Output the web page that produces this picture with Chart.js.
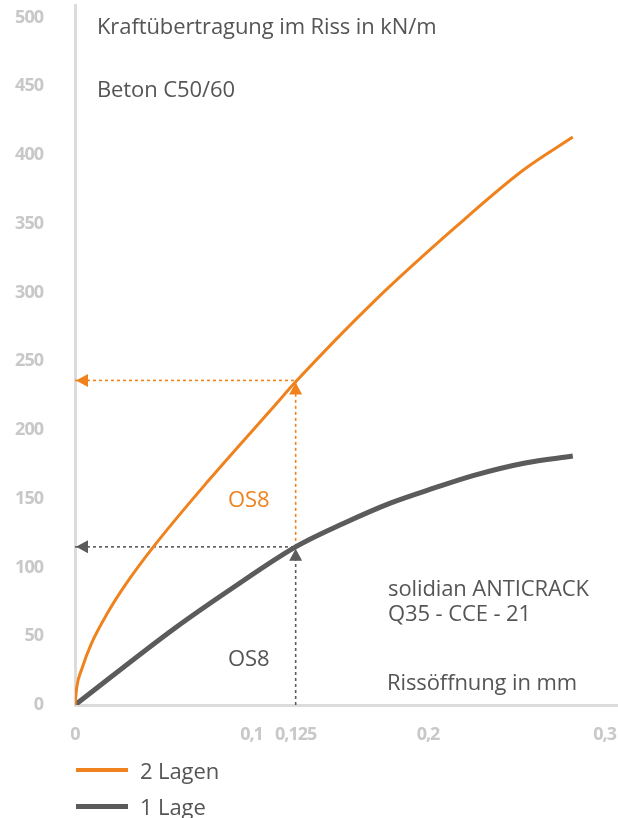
<!DOCTYPE html>
<html>
<head>
<meta charset="utf-8">
<script src="https://cdn.jsdelivr.net/npm/chart.js@4.4.1/dist/chart.umd.min.js"></script>
<style>
    body { margin: 0; background: #fff; font-family: "Open Sans", sans-serif; }
    #wrap { position: relative; width: 618px; height: 818px; }
    #wrap canvas { position: absolute; left: 0; top: 0; }
    .note { position: absolute; color: #555; font-size: 22px; line-height: 1; white-space: nowrap;
            letter-spacing: -0.1px; transform: translateY(-50%); }
    .orange { color: #F0821E; }
    .leg { position: absolute; left: 76px; height: 24px; display: flex; align-items: center;
           transform: translateY(-50%); }
    .leg span.swatch { display: inline-block; width: 52px; margin-right: 12px; }
    .leg span.txt { color: #555; font-size: 22px; letter-spacing: -0.1px; }
</style>
</head>
<body>
<div id="wrap">
    <canvas id="chart"></canvas>
    <div class="note" style="left:97px; top:25px;">Kraftübertragung im Riss in kN/m</div>
    <div class="note" style="left:97px; top:88px;">Beton C50/60</div>
    <div class="note orange" style="left:228px; top:498px;">OS8</div>
    <div class="note" style="left:228px; top:657px;">OS8</div>
    <div class="note" style="left:388px; top:587px;">solidian ANTICRACK</div>
    <div class="note" style="left:388px; top:612px;">Q35 - CCE - 21</div>
    <div class="note" style="left:387px; top:681px;">Rissöffnung in mm</div>
    <div id="legend"></div>
</div>

<script>
/*******************************
 * DATA
 *******************************/

// Rissöffnung (mm) / Kraft (kN/m), 2 Lagen
const opening2 = [0, 0.001, 0.0038, 0.0094, 0.0189, 0.0283, 0.0444, 0.0755, 0.1133, 0.125, 0.169, 0.216, 0.254, 0.282];
const force2   = [0, 13,    26,     45,     68,     87,     115,    163,    218,    235,   293,   348,   389,   413];

// 1 Lage
const opening1 = [0, 0.0567, 0.088, 0.125, 0.152, 0.179, 0.204, 0.226, 0.255, 0.282];
const force1   = [0, 56,     84,    115,   132,   147,   158,   167,   176,   181];

// OS8 read-off marks
const markOpening = 0.125;
const markForce2 = 236;
const markForce1 = 115;

const seriesNames = ['2 Lagen', '1 Lage'];
const xTickValues = [0, 0.1, 0.125, 0.2, 0.3];
const yTickValues = [0, 50, 100, 150, 200, 250, 300, 350, 400, 450, 500];

const ORANGE = '#F0821E';
const GREY = '#5B5B5B';
const AXIS = '#DCDCDC';
const TICK = '#C8C8C8';

function toPoints(xs, ys) {
    return xs.map((x, i) => ({ x: x, y: ys[i] }));
}

/*******************************
 * PLUGINS
 *******************************/

// tight tick labels like the original artwork
const tightText = {
    id: 'tightText',
    beforeDraw(chart) { chart.ctx.letterSpacing = '-1px'; },
    beforeDatasetsDraw(chart) { chart.ctx.letterSpacing = '0px'; }
};

// arrow heads at the end of the dotted read-off lines
const arrowHeads = {
    id: 'arrowHeads',
    afterDatasetsDraw(chart) {
        const ctx = chart.ctx;
        chart.data.datasets.forEach((ds, i) => {
            if (!ds.arrow) return;
            const p = chart.getDatasetMeta(i).data[ds.arrow.index];
            const len = 12, half = 6.5;
            ctx.save();
            ctx.fillStyle = ds.arrow.color;
            ctx.beginPath();
            if (ds.arrow.dir === 'left') {
                ctx.moveTo(p.x + 1, p.y);
                ctx.lineTo(p.x + 1 + len, p.y - half);
                ctx.lineTo(p.x + 1 + len, p.y + half);
            } else {
                ctx.moveTo(p.x, p.y + 2);
                ctx.lineTo(p.x - half, p.y + 2 + len);
                ctx.lineTo(p.x + half, p.y + 2 + len);
            }
            ctx.closePath();
            ctx.fill();
            ctx.restore();
        });
    }
};

function guide(points, color, arrow) {
    return {
        label: '',
        data: points,
        showLine: true,
        borderColor: color,
        borderWidth: 1.6,
        borderDash: [3, 3],
        pointRadius: 0,
        order: 5,
        arrow: arrow
    };
}

/*******************************
 * CHART
 *******************************/

const tickFont = { family: '"Open Sans"', size: 18, weight: 'bold' };

const chart = new Chart(document.getElementById('chart'), {
    type: 'scatter',
    data: {
        datasets: [
            {
                label: seriesNames[0],
                data: toPoints(opening2, force2),
                showLine: true,
                borderColor: ORANGE,
                backgroundColor: ORANGE,
                borderWidth: 3,
                pointRadius: 0,
                cubicInterpolationMode: 'monotone',
                order: 1
            },
            {
                label: seriesNames[1],
                data: toPoints(opening1, force1),
                showLine: true,
                borderColor: GREY,
                backgroundColor: GREY,
                borderWidth: 5,
                pointRadius: 0,
                cubicInterpolationMode: 'monotone',
                order: 2
            },
            guide([{ x: 0, y: markForce2 }, { x: markOpening, y: markForce2 }], ORANGE,
                  { index: 0, dir: 'left', color: ORANGE }),
            guide([{ x: markOpening, y: markForce1 }, { x: markOpening, y: markForce2 }], ORANGE,
                  { index: 1, dir: 'up', color: ORANGE }),
            guide([{ x: 0, y: markForce1 }, { x: markOpening, y: markForce1 }], GREY,
                  { index: 0, dir: 'left', color: GREY }),
            guide([{ x: markOpening, y: 0 }, { x: markOpening, y: markForce1 }], GREY,
                  { index: 1, dir: 'up', color: GREY })
        ]
    },
    options: {
        responsive: true,
        maintainAspectRatio: false,
        animation: false,
        layout: { padding: { top: 5, right: 0, bottom: 0, left: 0 } },
        plugins: {
            legend: { display: false },
            tooltip: { enabled: false }
        },
        scales: {
            x: {
                type: 'linear',
                min: 0,
                max: 0.3076,
                afterBuildTicks: (scale) => { scale.ticks = xTickValues.map(v => ({ value: v })); },
                afterFit: (scale) => { scale.height = 113; },
                grid: { display: false, drawTicks: true, tickLength: 19 },
                border: { display: true, color: AXIS, width: 3 },
                ticks: {
                    padding: 0,
                    maxRotation: 0,
                    autoSkip: false,
                    color: TICK,
                    font: tickFont,
                    callback: (v) => String(v).replace('.', ',')
                }
            },
            y: {
                min: 0,
                max: 509,
                afterBuildTicks: (scale) => { scale.ticks = yTickValues.map(v => ({ value: v })); },
                afterFit: (scale) => { scale.width = 75; },
                grid: { display: false, drawTicks: true, tickLength: 38 },
                border: { display: true, color: AXIS, width: 3 },
                ticks: {
                    padding: -6,
                    crossAlign: 'near',
                    autoSkip: false,
                    color: TICK,
                    font: tickFont
                }
            }
        }
    },
    plugins: [tightText, arrowHeads]
});

// Legend built from the two series
const legendTops = [770, 806];
const legendWidths = [4, 5];
const legend = document.getElementById('legend');
chart.data.datasets.slice(0, 2).forEach((ds, i) => {
    const row = document.createElement('div');
    row.className = 'leg';
    row.style.top = legendTops[i] + 'px';
    row.innerHTML = '<span class="swatch" style="height:' + legendWidths[i] + 'px;background:' +
        ds.borderColor + '"></span><span class="txt">' + ds.label + '</span>';
    legend.appendChild(row);
});
</script>
</body>
</html>
